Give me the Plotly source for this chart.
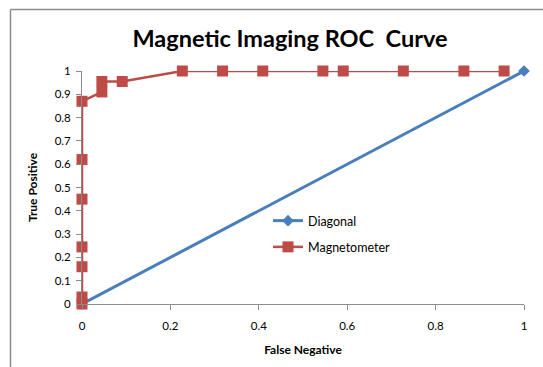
import plotly.graph_objects as go

# Reference diagonal (chance line)
diag_x = [0, 1]
diag_y = [0, 1]

# Magnetometer ROC points
mag_x = [0, 0, 0, 0, 0, 0, 0, 0.045, 0.045, 0.091, 0.227, 0.318, 0.409,
         0.545, 0.591, 0.727, 0.864, 0.955]
mag_y = [0, 0.03, 0.16, 0.245, 0.45, 0.62, 0.87, 0.91, 0.955, 0.955, 1, 1, 1,
         1, 1, 1, 1, 1]

tick_vals_y = [i / 10 for i in range(11)]
tick_text_y = ["0", "0.1", "0.2", "0.3", "0.4", "0.5", "0.6", "0.7", "0.8", "0.9", "1"]
tick_vals_x = [0, 0.2, 0.4, 0.6, 0.8, 1]
tick_text_x = ["0", "0.2", "0.4", "0.6", "0.8", "1"]

FONT = "Lato, Calibri, sans-serif"
BLUE = "#4A7EBB"
RED = "#BE4B48"
AXIS = "#8C8C8C"

fig = go.Figure()
fig.add_trace(go.Scatter(
    x=diag_x, y=diag_y, name="Diagonal", mode="lines+markers",
    line=dict(color=BLUE, width=3),
    marker=dict(symbol="diamond", size=9, color=BLUE),
    cliponaxis=False, legendgroup="a",
))
fig.add_trace(go.Scatter(
    x=mag_x, y=mag_y, name="Magnetometer", mode="lines+markers",
    line=dict(color=RED, width=2.5),
    marker=dict(symbol="square", size=11, color=RED),
    cliponaxis=False, legendgroup="b",
))

L, R, T, B = 82, 19, 71, 63
W, H = 543, 367
pw, ph = W - L - R, H - T - B

def px_x(v):
    return (v - L) / pw

def px_y(v):
    return (H - B - v) / ph

# Chart frame: only the left and top edges fall inside the page
frame = dict(color="#8C8C8C", width=1.5)

fig.update_layout(
    width=W, height=H,
    margin=dict(l=L, r=R, t=T, b=B),
    paper_bgcolor="white", plot_bgcolor="white",
    font=dict(family=FONT, size=11.5, color="#000000"),
    title=dict(text="<b>Magnetic Imaging ROC  Curve</b>", x=290 / W,
               xanchor="center", y=1 - 39 / H, yanchor="middle",
               font=dict(size=23.5, family=FONT)),
    showlegend=True,
    legend=dict(x=px_x(268), y=px_y(206), xanchor="left", yanchor="top",
                bgcolor="rgba(0,0,0,0)", tracegroupgap=7,
                font=dict(size=12.5, family=FONT), itemwidth=30),
    xaxis=dict(range=[0, 1], tickvals=tick_vals_x, ticktext=tick_text_x,
               showgrid=False, zeroline=False, showline=True, linecolor=AXIS,
               linewidth=1, ticks="outside", tickcolor=AXIS, ticklen=5,
               ticklabelstandoff=6,
               title=dict(text="<b>False Negative</b>", standoff=14,
                          font=dict(size=12, family=FONT))),
    yaxis=dict(range=[0, 1], tickvals=tick_vals_y, ticktext=tick_text_y,
               showgrid=False, zeroline=False, showline=True, linecolor=AXIS,
               linewidth=1, ticks="outside", tickcolor=AXIS, ticklen=5,
               ticklabelstandoff=3,
               title=dict(text="<b>True Positive</b>", standoff=14,
                          font=dict(size=12, family=FONT))),
    shapes=[
        dict(type="line", xref="paper", yref="paper",
             x0=px_x(10.5), x1=px_x(W), y0=px_y(9.5), y1=px_y(9.5),
             line=frame, layer="below"),
        dict(type="line", xref="paper", yref="paper",
             x0=px_x(10.5), x1=px_x(10.5), y0=px_y(9.5), y1=px_y(H),
             line=frame, layer="below"),
    ],
)

fig.write_html("out.html")
